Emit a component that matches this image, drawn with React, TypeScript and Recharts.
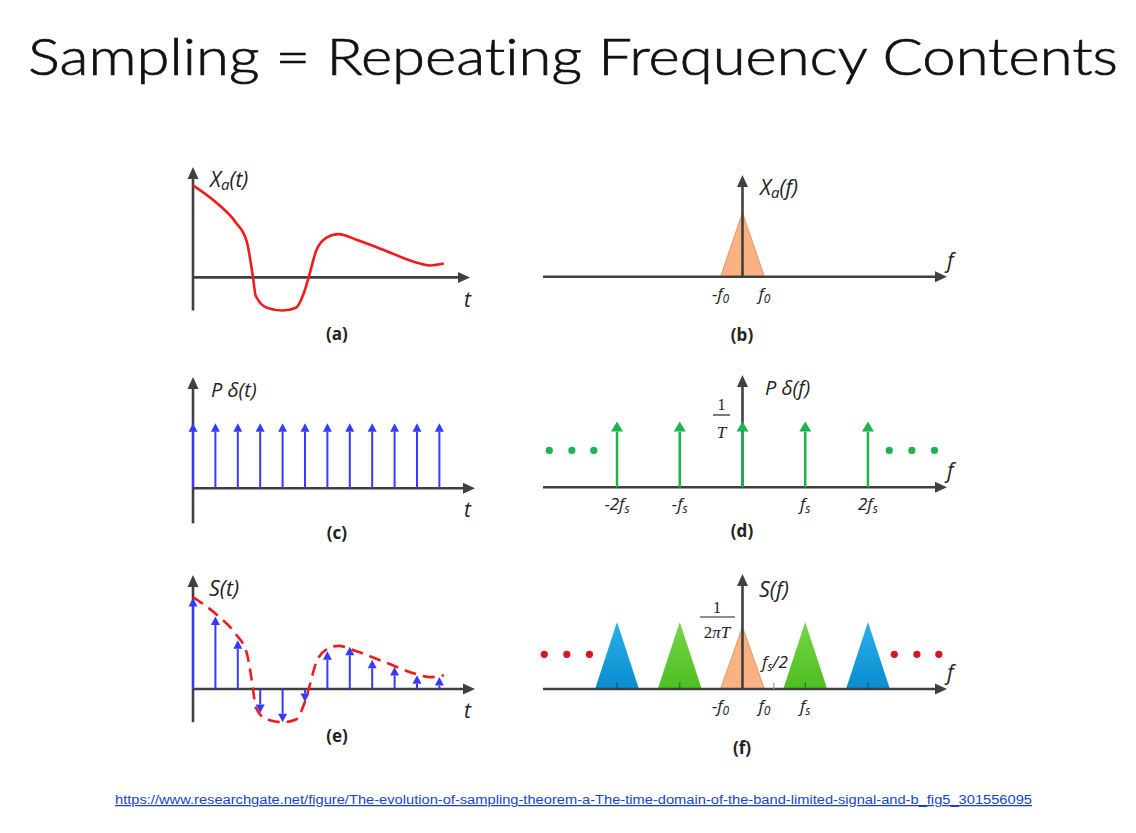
import React from 'react';
import { ComposedChart, XAxis, YAxis, Line, Area, Scatter, ReferenceLine } from 'recharts';

// ---------- time domain (panels a, c, e) ----------
// t in sampling periods T, amplitude relative to x_a(0)
const analogT = [0, 1.1, 1.9, 2.4, 2.6, 2.68, 2.8, 3.3, 4.0, 4.6, 4.95, 5.2, 5.5, 5.95, 6.5, 7.3, 8.6, 10.0, 10.6, 11.2];
const analogX = [1.0, 0.8, 0.6, 0.39, 0.13, 0, -0.2, -0.33, -0.36, -0.33, -0.17, 0.03, 0.29, 0.43, 0.47, 0.41, 0.29, 0.16, 0.13, 0.15];

const sampleT = [0, 1, 2, 3, 4, 5, 6, 7, 8, 9, 10, 11];
const combT = [1, 1, 1, 1, 1, 1, 1, 1, 1, 1, 1, 1];
const sampledX = [0.99, 0.79, 0.53, -0.26, -0.36, -0.14, 0.41, 0.46, 0.32, 0.24, 0.15, 0.13];

// ---------- frequency domain (panels b, d, f) ----------
// f in units of fs
const f0 = 0.35;
const baseHeight = 1;
const combF = [-2, -1, 0, 1, 2];
const combFHeight = [1, 1, 1, 1, 1];
const replicaCenters = [-2, -1, 0, 1, 2];
const replicaHeights = [1.08, 1.08, 1, 1.08, 1.08];
const replicaFills = ['url(#gBlue)', 'url(#gGreen)', '#fbb283', 'url(#gGreen)', 'url(#gBlue)'];
const replicaMarks = [-2, -1, 1, 2];
const halfFs = 0.5;
const dotsD = [-3.08, -2.72, -2.37, 2.34, 2.7, 3.06];
const dotsF = [-3.16, -2.8, -2.44, 2.42, 2.78, 3.13];
const dotLevelD = 0.56;
const dotLevelF = 0.56;

const ticksB = [-f0, f0];
const tickLabelsB = [['-', 'f', '0'], ['', 'f', '0']];
const ticksD = [-2, -1, 1, 2];
const tickLabelsD = [['-2', 'f', 's'], ['-', 'f', 's'], ['', 'f', 's'], ['2', 'f', 's']];
const ticksF = [-f0, f0, 1];
const tickLabelsF = [['-', 'f', '0'], ['', 'f', '0'], ['', 'f', 's']];

// tables for the library
const analog = analogT.map((x, i) => ({ x, y: analogX[i] }));
const baseTriangle = [{ x: -f0, y: 0 }, { x: 0, y: baseHeight }, { x: f0, y: 0 }];
const replicas = replicaCenters.map((c, i) => [
  { x: c - f0, y: 0 },
  { x: c, y: replicaHeights[i] },
  { x: c + f0, y: 0 },
]);

const AXIS = '#404040';
const BLUE = '#3838ff';
const GREEN = '#1db34f';
const RED = '#f01c1c';
const DOT_RED = '#d8161e';
const PAD = 14;
const AXIS_H = 34;
const labelFont = "'Open Sans', 'DejaVu Sans', sans-serif";

const arrowShape = (color: string, width: number, headLen: number, headHalf: number) => (p: any) => {
  const { x1, y1, x2, y2 } = p;
  const dx = x2 - x1;
  const dy = y2 - y1;
  const len = Math.hypot(dx, dy) || 1;
  const ux = dx / len;
  const uy = dy / len;
  const hl = Math.min(headLen, len);
  const bx = x2 - ux * hl;
  const by = y2 - uy * hl;
  const px = -uy * headHalf;
  const py = ux * headHalf;
  return (
    <g>
      <line x1={x1} y1={y1} x2={bx} y2={by} stroke={color} strokeWidth={width} />
      <polygon points={`${x2},${y2} ${bx + px},${by + py} ${bx - px},${by - py}`} fill={color} />
    </g>
  );
};

const axisArrow = arrowShape(AXIS, 2.6, 12, 5.5);
const blueArrow = arrowShape(BLUE, 2, 8.5, 4.5);
const greenArrow = arrowShape(GREEN, 2.5, 10, 6);

const FreqTick = (props: any) => {
  const { x, y, payload, ticks, labels } = props;
  const lab = labels[ticks.indexOf(payload.value)] || ['', '', ''];
  return (
    <text x={x} y={y + 23} textAnchor="middle" fontFamily={labelFont} fontStyle="italic" fontSize={17} fill="#222">
      {lab[0]}{lab[1]}
      <tspan fontSize={12} dy={3}>{lab[2]}</tspan>
    </text>
  );
};

type Geo = { left: number; right: number; top: number; bottom: number; x: [number, number]; y: [number, number] };

const geoA: Geo = { left: 193, right: 470, top: 166.6, bottom: 310.1, x: [0, 12.37], y: [-0.36, 1.2] };
const geoC: Geo = { left: 193, right: 475, top: 377.1, bottom: 523.4, x: [0, 12.59], y: [-0.54, 1.71] };
const geoE: Geo = { left: 193, right: 475, top: 574.9, bottom: 722.1, x: [0, 12.59], y: [-0.36, 1.24] };
const geoB: Geo = { left: 543, right: 947, top: 175.2, bottom: 277, x: [-3.18, 3.26], y: [0, 1.59] };
const geoD: Geo = { left: 543, right: 947, top: 375.1, bottom: 487.3, x: [-3.18, 3.26], y: [0, 1.71] };
const geoF: Geo = { left: 543, right: 947, top: 574, bottom: 689, x: [-3.18, 3.26], y: [0, 1.855] };

// `fixed` pins the domain for a panel that only has reference marks and no series
function Panel({ geo, ticks, tickLabels, fixed, children }: any) {
  const axisH = ticks ? AXIS_H : 0;
  const w = geo.right - geo.left + 2 * PAD;
  const h = geo.bottom - geo.top + 2 * PAD + axisH;
  return (
    <div style={{ position: 'absolute', left: geo.left - PAD, top: geo.top - PAD }}>
      <ComposedChart width={w} height={h} margin={{ top: PAD, right: PAD, bottom: PAD, left: PAD }}>
        <defs>
          <linearGradient id="gBlue" x1="0" y1="0" x2="0" y2="1">
            <stop offset="0%" stopColor="#2ab0e8" />
            <stop offset="100%" stopColor="#0a8cd0" />
          </linearGradient>
          <linearGradient id="gGreen" x1="0" y1="0" x2="0" y2="1">
            <stop offset="0%" stopColor="#78d547" />
            <stop offset="100%" stopColor="#4cbf22" />
          </linearGradient>
        </defs>
        <XAxis
          type="number"
          dataKey="x"
          domain={geo.x}
          allowDataOverflow={!!fixed}
          hide={!ticks}
          ticks={ticks}
          interval={0}
          height={axisH}
          axisLine={false}
          tickLine={false}
          tickSize={0}
          tickMargin={0}
          tick={ticks ? <FreqTick ticks={ticks} labels={tickLabels} /> : false}
        />
        <YAxis type="number" domain={geo.y} allowDataOverflow={!!fixed} hide />
        {children}
      </ComposedChart>
    </div>
  );
}

const timeAxes = (geo: Geo) => [
  <ReferenceLine key="ya" segment={[{ x: 0, y: geo.y[0] }, { x: 0, y: geo.y[1] }]} shape={axisArrow} ifOverflow="visible" />,
  <ReferenceLine key="xa" segment={[{ x: 0, y: 0 }, { x: geo.x[1], y: 0 }]} shape={axisArrow} ifOverflow="visible" />,
];
const freqAxes = (geo: Geo) => [
  <ReferenceLine key="xa" segment={[{ x: geo.x[0], y: 0 }, { x: geo.x[1], y: 0 }]} shape={axisArrow} ifOverflow="visible" />,
  <ReferenceLine key="ya" segment={[{ x: 0, y: 0 }, { x: 0, y: geo.y[1] }]} shape={axisArrow} ifOverflow="visible" />,
];

const dot = (color: string) => (p: any) => <circle cx={p.cx} cy={p.cy} r={3.6} fill={color} />;

export default function App() {
  return (
    <div style={{ position: 'absolute', left: 0, top: 0, width: 1136, height: 833, background: '#fff', overflow: 'hidden' }}>
      {/* (a) analog signal */}
      <Panel geo={geoA}>
        {timeAxes(geoA)}
        <Line data={analog} dataKey="y" type="monotone" stroke={RED} strokeWidth={2.6} dot={false} isAnimationActive={false} />
      </Panel>

      {/* (b) spectrum of analog signal */}
      <Panel geo={geoB} ticks={ticksB} tickLabels={tickLabelsB}>
        <Area data={baseTriangle} dataKey="y" type="linear" fill="#fbb283" fillOpacity={1} stroke="#e9955e" strokeWidth={1} isAnimationActive={false} />
        {freqAxes(geoB)}
      </Panel>

      {/* (c) impulse train */}
      <Panel geo={geoC} fixed>
        {timeAxes(geoC)}
        {sampleT.map((t, i) => (
          <ReferenceLine key={'c' + i} segment={[{ x: t, y: 0 }, { x: t, y: combT[i] }]} shape={blueArrow} ifOverflow="visible" />
        ))}
      </Panel>

      {/* (d) spectrum of impulse train */}
      <Panel geo={geoD} ticks={ticksD} tickLabels={tickLabelsD}>
        {freqAxes(geoD)}
        {combF.map((f, i) => (
          <ReferenceLine key={'d' + i} segment={[{ x: f, y: 0 }, { x: f, y: combFHeight[i] }]} shape={greenArrow} ifOverflow="visible" />
        ))}
        <Scatter data={dotsD.map((x) => ({ x, y: dotLevelD }))} dataKey="y" shape={dot(GREEN)} isAnimationActive={false} />
      </Panel>

      {/* (e) sampled signal */}
      <Panel geo={geoE}>
        {timeAxes(geoE)}
        {sampleT.map((t, i) => (
          <ReferenceLine key={'e' + i} segment={[{ x: t, y: 0 }, { x: t, y: sampledX[i] }]} shape={blueArrow} ifOverflow="visible" />
        ))}
        <Line data={analog} dataKey="y" type="monotone" stroke={RED} strokeWidth={2.6} strokeDasharray="12 7" dot={false} isAnimationActive={false} />
      </Panel>

      {/* (f) spectrum of sampled signal */}
      <Panel geo={geoF} ticks={ticksF} tickLabels={tickLabelsF}>
        {replicas.map((tri, i) => (
          <Area
            key={'r' + i}
            data={tri}
            dataKey="y"
            type="linear"
            fill={replicaFills[i]}
            fillOpacity={1}
            stroke={i === 2 ? '#e9955e' : 'none'}
            strokeWidth={1}
            isAnimationActive={false}
          />
        ))}
        {freqAxes(geoF)}
        {replicaMarks.map((f, i) => (
          <ReferenceLine key={'m' + i} segment={[{ x: f, y: 0 }, { x: f, y: 0.11 }]} stroke="rgba(40,40,40,0.55)" strokeWidth={1.2} ifOverflow="visible" />
        ))}
        <ReferenceLine segment={[{ x: halfFs, y: 0 }, { x: halfFs, y: 0.1 }]} stroke="#9a9a9a" strokeWidth={1.2} ifOverflow="visible" />
        <Scatter data={dotsF.map((x) => ({ x, y: dotLevelF }))} dataKey="y" shape={dot(DOT_RED)} isAnimationActive={false} />
      </Panel>

      {/* text layer */}
      <svg width={1136} height={833} style={{ position: 'absolute', left: 0, top: 0, pointerEvents: 'none' }}>
        <text
          x={28}
          y={75}
          fontFamily="Lato, 'Open Sans', sans-serif"
          fontWeight={300}
          fontSize={51}
          fill="#111"
          stroke="#111"
          strokeWidth={0.7}
          textLength={1090}
          lengthAdjust="spacingAndGlyphs"
          style={{ fontVariantLigatures: 'none' }}
        >
          Sampling = Repeating Frequency Contents
        </text>

        <g fontFamily={labelFont} fontStyle="italic" fill="#222">
          <text x={210} y={187} fontSize={21}>X<tspan fontSize={15} dy={3}>a</tspan><tspan dy={-3}>(t)</tspan></text>
          <text x={464} y={307} fontSize={21}>t</text>
          <text x={760} y={195} fontSize={21}>X<tspan fontSize={15} dy={3}>a</tspan><tspan dy={-3}>(f)</tspan></text>
          <text x={947} y={268} fontSize={21}>f</text>

          <text x={211} y={397} fontSize={20}>P δ(t)</text>
          <text x={464} y={517} fontSize={21}>t</text>
          <text x={765} y={395} fontSize={20}>P δ(f)</text>
          <text x={947} y={478} fontSize={21}>f</text>

          <text x={209} y={596} fontSize={21.5}>S(t)</text>
          <text x={464} y={718} fontSize={21}>t</text>
          <text x={759} y={597} fontSize={21.5}>S(f)</text>
          <text x={947} y={680} fontSize={21}>f</text>

          <text x={775} y={668} fontSize={17} textAnchor="middle">f<tspan fontSize={12} dy={3}>s</tspan><tspan dy={-3}>/2</tspan></text>
        </g>

        <g fontFamily="'Liberation Serif', serif" fill="#222" textAnchor="middle">
          <text x={721.5} y={410} fontSize={16}>1</text>
          <line x1={713} x2={730} y1={415} y2={415} stroke="#222" strokeWidth={1.2} />
          <text x={721.5} y={438} fontSize={17} fontStyle="italic">T</text>

          <text x={717} y={613} fontSize={16}>1</text>
          <line x1={700} x2={735} y1={617} y2={617} stroke="#222" strokeWidth={1.2} />
          <text x={717} y={638} fontSize={17}>2<tspan fontStyle="italic">πT</tspan></text>
        </g>

        <g fontFamily={labelFont} fontWeight={700} fontSize={17} fill="#222" textAnchor="middle">
          <text x={337} y={340}>(a)</text>
          <text x={742} y={341}>(b)</text>
          <text x={337} y={539}>(c)</text>
          <text x={742} y={537}>(d)</text>
          <text x={337} y={742}>(e)</text>
          <text x={742} y={754}>(f)</text>
        </g>

        <text x={115} y={804} fontFamily="'Liberation Sans', Arial, sans-serif" fontSize={12.5} fill="#1a3fd6" textDecoration="underline" textLength={917} lengthAdjust="spacingAndGlyphs">
          https://www.researchgate.net/figure/The-evolution-of-sampling-theorem-a-The-time-domain-of-the-band-limited-signal-and-b_fig5_301556095
        </text>
      </svg>
    </div>
  );
}
